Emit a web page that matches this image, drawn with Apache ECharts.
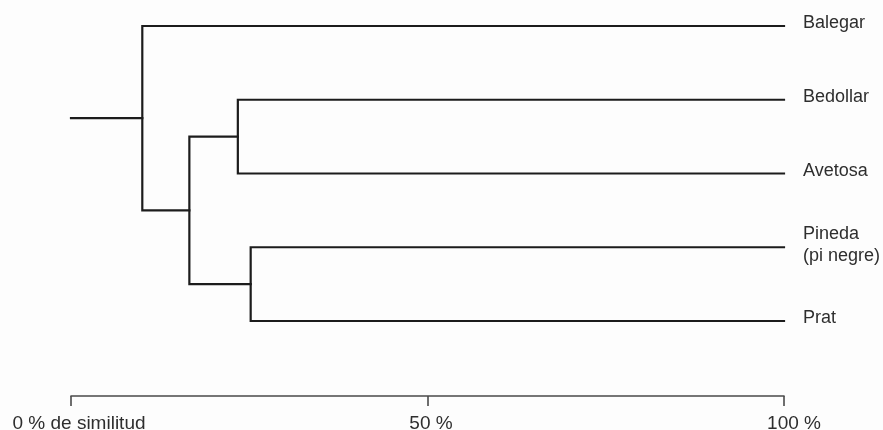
<!DOCTYPE html>
<html>
<head>
<meta charset="utf-8">
<script src="https://cdn.jsdelivr.net/npm/echarts@6/dist/echarts.min.js"></script>
<style>
  html, body { margin: 0; padding: 0; background: #fdfdfd; }
  #chart { width: 883px; height: 430px; }
</style>
</head>
<body>
<div id="chart"></div>
<script>
// Leaves of the dendrogram, top to bottom
const leaves = ['Balegar', 'Bedollar', 'Avetosa', 'Pineda\n(pi negre)', 'Prat'];

// Agglomeration steps: [childA, childB, similarity %]
// Indices 0..4 are leaves, 5.. are the clusters formed by earlier steps
const mergeA = [1, 3, 5, 0];
const mergeB = [2, 4, 6, 7];
const mergeSimilarity = [23.4, 25.2, 16.6, 10.0];

// Similarity axis ticks and their labels
const tickValues = [0, 50, 100];
const tickLabels = ['0 % de similitud', '50 %', '100 %'];

// Node positions in data space: x = similarity, y = leaf order
const nodeX = leaves.map(() => 100);
const nodeY = leaves.map((_, i) => i);
const branches = [];
mergeSimilarity.forEach((s, k) => {
  const a = mergeA[k], b = mergeB[k];
  branches.push([
    [nodeX[a], nodeY[a]],
    [s, nodeY[a]],
    [s, nodeY[b]],
    [nodeX[b], nodeY[b]]
  ]);
  nodeX.push(s);
  nodeY.push((nodeY[a] + nodeY[b]) / 2);
});
// Stem from the root down to 0 %
const root = nodeX.length - 1;
branches.push([[nodeX[root], nodeY[root]], [0, nodeY[root]]]);

const lineStyle = { color: '#1c1c1c', width: 2.2, cap: 'square', join: 'miter' };

const chart = echarts.init(document.getElementById('chart'), null, { renderer: 'canvas' });
chart.setOption({
  backgroundColor: '#fdfdfd',
  animation: false,
  textStyle: { fontFamily: 'Liberation Sans, Arial, Helvetica, sans-serif' },
  grid: {
    left: 71, right: 99, top: 26, bottom: 109,
    containLabel: false,
    outerBoundsMode: 'none'
  },
  xAxis: {
    type: 'value',
    min: 0,
    max: 100,
    interval: 50,
    position: 'bottom',
    offset: 75,
    axisLine: { show: true, onZero: false, lineStyle: { color: '#4a4a4a', width: 1.6 } },
    axisTick: { show: true, length: 10, lineStyle: { color: '#4a4a4a', width: 1.6 } },
    splitLine: { show: false },
    axisLabel: {
      margin: 18,
      color: '#2e2e2e',
      fontSize: 19,
      formatter: v => {
        const i = tickValues.indexOf(v);
        return i < 0 ? '' : '{t' + i + '|' + tickLabels[i] + '}';
      },
      rich: {
        t0: { fontSize: 19, color: '#2e2e2e', padding: [0, 0, 0, 16] },
        t1: { fontSize: 19, color: '#2e2e2e', padding: [0, 0, 0, 7] },
        t2: { fontSize: 19, color: '#2e2e2e', padding: [0, 0, 0, 20] }
      }
    }
  },
  yAxis: [
    {
      type: 'value',
      min: 0,
      max: leaves.length - 1,
      inverse: true,
      show: false
    },
    {
      type: 'category',
      data: leaves,
      position: 'right',
      inverse: true,
      boundaryGap: false,
      axisLine: { show: false },
      axisTick: { show: false },
      splitLine: { show: false },
      axisLabel: {
        margin: 19,
        color: '#2e2e2e',
        fontSize: 18,
        lineHeight: 22,
        align: 'left',
        formatter: v => '{n|' + v.split('\n').join('}\n{n|') + '}',
        rich: { n: { fontSize: 18, lineHeight: 22, color: '#2e2e2e', padding: [0, 0, 5, 0] } }
      }
    }
  ],
  series: branches.map(pts => ({
    type: 'line',
    yAxisIndex: 0,
    data: pts,
    symbol: 'none',
    silent: true,
    lineStyle: lineStyle
  }))
});
</script>
</body>
</html>
